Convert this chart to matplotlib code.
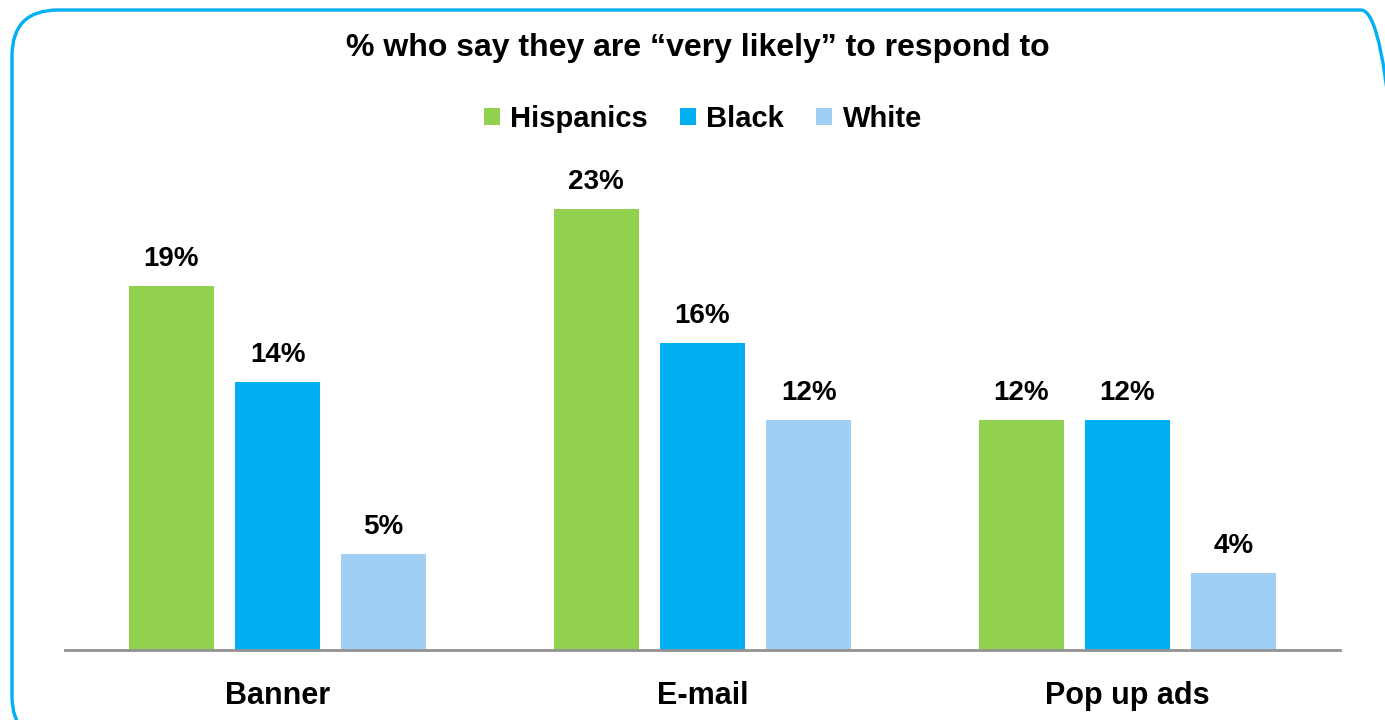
import matplotlib
matplotlib.use("Agg")
import matplotlib.pyplot as plt
from matplotlib.patches import FancyBboxPatch
from matplotlib.transforms import IdentityTransform
import numpy as np

categories = ["Banner", "E-mail", "Pop up ads"]
series_names = ["Hispanics", "Black", "White"]
hispanics = [19, 23, 12]
black = [14, 16, 12]
white = [5, 12, 4]
colors = ["#92D050", "#00B0F0", "#A0CFF3"]
title = "% who say they are \u201cvery likely\u201d to respond to"

plt.rcParams['font.family'] = ['Liberation Sans', 'DejaVu Sans']

W, H, DPI = 1385, 720, 100
fig = plt.figure(figsize=(W / DPI, H / DPI), dpi=DPI)
fig.patch.set_facecolor("white")

# rounded border (display pixel coords, origin bottom-left)
border = FancyBboxPatch((12, -22), 1395, 732, boxstyle="round,pad=0,rounding_size=46",
                        transform=IdentityTransform(), facecolor="none",
                        edgecolor="#00B0F0", linewidth=2.4, zorder=0)
fig.patches.append(border)

ax = fig.add_axes([65 / W, 70 / H, 1275 / W, 490 / H])
x = np.arange(len(categories))
bw = 0.2
off = 0.25
data = [hispanics, black, white]
for i, (vals, c, name) in enumerate(zip(data, colors, series_names)):
    bars = ax.bar(x + (i - 1) * off, vals, width=bw, color=c, label=name, zorder=2)
    for b, v in zip(bars, vals):
        ax.annotate(f"{v}%", (b.get_x() + b.get_width() / 2, v), xytext=(0, 10),
                    textcoords="offset points", ha="center", va="bottom",
                    fontsize=20, fontweight="bold", color="black")

ax.set_xlim(-0.5, 2.5)
ax.set_ylim(0, 490 / 19.17)
for s in ["top", "right", "left"]:
    ax.spines[s].set_visible(False)
ax.spines["bottom"].set_color("#929292")
ax.spines["bottom"].set_linewidth(2)
ax.set_yticks([])
ax.set_xticks(x)
ax.set_xticklabels(categories, fontsize=22, fontweight="bold")
ax.tick_params(axis="x", length=0, pad=22)
ax.set_facecolor("none")

fig.text(698 / W, 1 - 48 / H, title, ha="center", va="center", fontsize=23, fontweight="bold")

handles, labels = ax.get_legend_handles_labels()
fig.legend(handles, labels, loc="center", bbox_to_anchor=(703 / W, 1 - 119 / H), ncol=3,
           frameon=False, prop={"size": 21, "weight": "bold"}, handlelength=0.55,
           handleheight=0.55, handletextpad=0.35, columnspacing=1.1)

fig.savefig("out.png", dpi=DPI, facecolor="white")
